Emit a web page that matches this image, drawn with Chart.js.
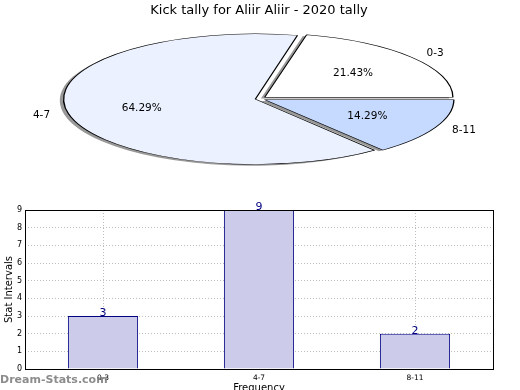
<!DOCTYPE html>
<html>
<head>
<meta charset="utf-8">
<script src="https://cdn.jsdelivr.net/npm/chart.js@4.4.1/dist/chart.umd.min.js"></script>
<style>
  html, body { margin: 0; padding: 0; background: #fff; overflow: hidden; }
  #wrap { position: relative; width: 520px; height: 390px; }
  #pieChart { position: absolute; left: 0; top: 0; }
  #barChart { position: absolute; left: 0; top: 200px; }
</style>
</head>
<body>
<div id="wrap">
  <canvas id="pieChart" width="520" height="200"></canvas>
  <canvas id="barChart" width="520" height="200"></canvas>
</div>
<script>
// data
const categories = ['0-3', '4-7', '8-11'];
const counts = [3, 9, 2];
const pieColors = ['#ffffff', '#ebf1fe', '#c6d9fe'];
const chartTitle = 'Kick tally for Aliir Aliir - 2020 tally';
const yTitle = 'Stat Intervals';
const xTitle = 'Frequency';

Chart.defaults.font.family = "'DejaVu Sans', sans-serif";
Chart.defaults.color = '#000';

// pie is drawn as a circle and squashed vertically to an ellipse
const PIE_RADIUS = 188;
const SQUASH = 64 / 188;
const EXPLODE_PX = 7.5;

// matplotlib starts at 3 o'clock going counter-clockwise; chart.js goes clockwise
const pieLabels = categories.slice().reverse();
const pieValues = counts.slice().reverse();
const pieFill = pieColors.slice().reverse();
const total = counts.reduce((a, b) => a + b, 0);

function explodeOffset(ctx) {
  const circ = ctx.parsed / total * Math.PI * 2;
  const fix = 1 - Math.sin(Math.min(Math.PI, circ));
  return 4 * EXPLODE_PX / (1 + fix);
}

const ellipsePlugin = {
  id: 'ellipse',
  beforeDatasetsDraw(chart) {
    const ctx = chart.ctx;
    const arcs = chart.getDatasetMeta(0).data;
    const cx = arcs[0].x, cy = arcs[0].y;
    ctx.save();
    ctx.translate(cx, cy);
    ctx.scale(1, SQUASH);
    ctx.translate(-cx, -cy);
    // shadow copies under the wedges
    ctx.save();
    ctx.translate(-3.8, 1.3 / SQUASH);
    arcs.forEach(arc => {
      const saved = arc.options;
      arc.options = Object.assign({}, saved, {
        backgroundColor: 'rgba(50,50,50,0.5)',
        borderColor: 'rgba(0,0,0,0)'
      });
      arc.draw(ctx);
      arc.options = saved;
    });
    ctx.restore();
  },
  afterDatasetsDraw(chart) {
    const ctx = chart.ctx;
    ctx.restore();
    const arcs = chart.getDatasetMeta(0).data;
    ctx.save();
    ctx.fillStyle = '#000';
    ctx.font = "10.5px 'DejaVu Sans'";
    ctx.textBaseline = 'middle';
    arcs.forEach((arc, i) => {
      const mid = (arc.startAngle + arc.endAngle) / 2;
      const r = arc.outerRadius;
      const c = Math.cos(mid), s = Math.sin(mid);
      const pct = (pieValues[i] / total * 100).toFixed(2) + '%';
      let d = 0.6 * r + EXPLODE_PX;
      ctx.textAlign = 'center';
      ctx.fillText(pct, arc.x + c * d, arc.y + s * d * SQUASH);
      d = 1.1 * r + EXPLODE_PX;
      ctx.textAlign = c > 0 ? 'left' : 'right';
      ctx.fillText(pieLabels[i], arc.x + c * d, arc.y + s * d * SQUASH);
    });
    ctx.restore();
  }
};

new Chart(document.getElementById('pieChart'), {
  type: 'pie',
  data: {
    labels: pieLabels,
    datasets: [{
      data: pieValues,
      backgroundColor: pieFill,
      borderColor: '#000',
      borderWidth: 1.3,
      offset: explodeOffset,
      clip: false
    }]
  },
  options: {
    responsive: false,
    animation: false,
    rotation: 90,
    radius: PIE_RADIUS,
    layout: { padding: { left: 0, right: 2, top: 0, bottom: 25 } },
    plugins: {
      legend: { display: false },
      tooltip: { enabled: false },
      title: {
        display: true,
        text: chartTitle,
        font: { size: 13, weight: 'normal' },
        color: '#000',
        padding: { top: 3, bottom: 4 }
      }
    }
  },
  plugins: [ellipsePlugin]
});

const framePlugin = {
  id: 'frame',
  afterDatasetsDraw(chart) {
    const ctx = chart.ctx;
    const meta = chart.getDatasetMeta(0);
    ctx.save();
    ctx.fillStyle = '#000080';
    ctx.font = "11px 'DejaVu Sans'";
    ctx.textAlign = 'center';
    ctx.textBaseline = 'alphabetic';
    meta.data.forEach((bar, i) => {
      ctx.fillText(String(counts[i]), bar.x, bar.y);
    });
    ctx.restore();
  },
  afterDraw(chart) {
    const ctx = chart.ctx;
    const a = chart.chartArea;
    ctx.save();
    ctx.strokeStyle = '#000';
    ctx.lineWidth = 1;
    ctx.strokeRect(Math.round(a.left) + 0.5, Math.round(a.top) + 0.5,
      Math.round(a.right - a.left), Math.round(a.bottom - a.top));
    ctx.fillStyle = 'rgba(120,120,120,0.85)';
    ctx.font = "bold 11px 'DejaVu Sans'";
    ctx.textAlign = 'left';
    ctx.textBaseline = 'middle';
    ctx.fillText('Dream-Stats.com', 0, 180);
    ctx.restore();
  }
};

new Chart(document.getElementById('barChart'), {
  type: 'bar',
  data: {
    labels: categories,
    datasets: [{
      data: counts,
      backgroundColor: '#ccccea',
      borderColor: '#000080',
      borderWidth: 1,
      categoryPercentage: 1,
      barPercentage: 0.45
    }]
  },
  options: {
    responsive: false,
    animation: false,
    layout: { padding: { top: 10, right: 27, left: 0, bottom: 0 } },
    plugins: { legend: { display: false }, tooltip: { enabled: false } },
    scales: {
      x: {
        offset: true,
        z: 1,
        grid: { offset: false, color: '#bdbdbd', drawTicks: false },
        border: { display: false, dash: [1, 2] },
        ticks: { font: { size: 7.5 }, color: '#000', padding: 5 },
        title: { display: true, text: xTitle, font: { size: 10 }, padding: { top: 0, bottom: 6 } },
        afterFit(scale) { scale.height = 31; }
      },
      y: {
        min: 0,
        max: 9,
        z: 1,
        grid: { color: '#bdbdbd', drawTicks: false },
        border: { display: false, dash: [1, 2] },
        ticks: { stepSize: 1, font: { size: 8 }, color: '#000', padding: 3 },
        title: { display: true, text: yTitle, font: { size: 10 }, padding: { top: 3, bottom: 0 } },
        afterFit(scale) { scale.width = 25; }
      }
    }
  },
  plugins: [framePlugin]
});
</script>
</body>
</html>
